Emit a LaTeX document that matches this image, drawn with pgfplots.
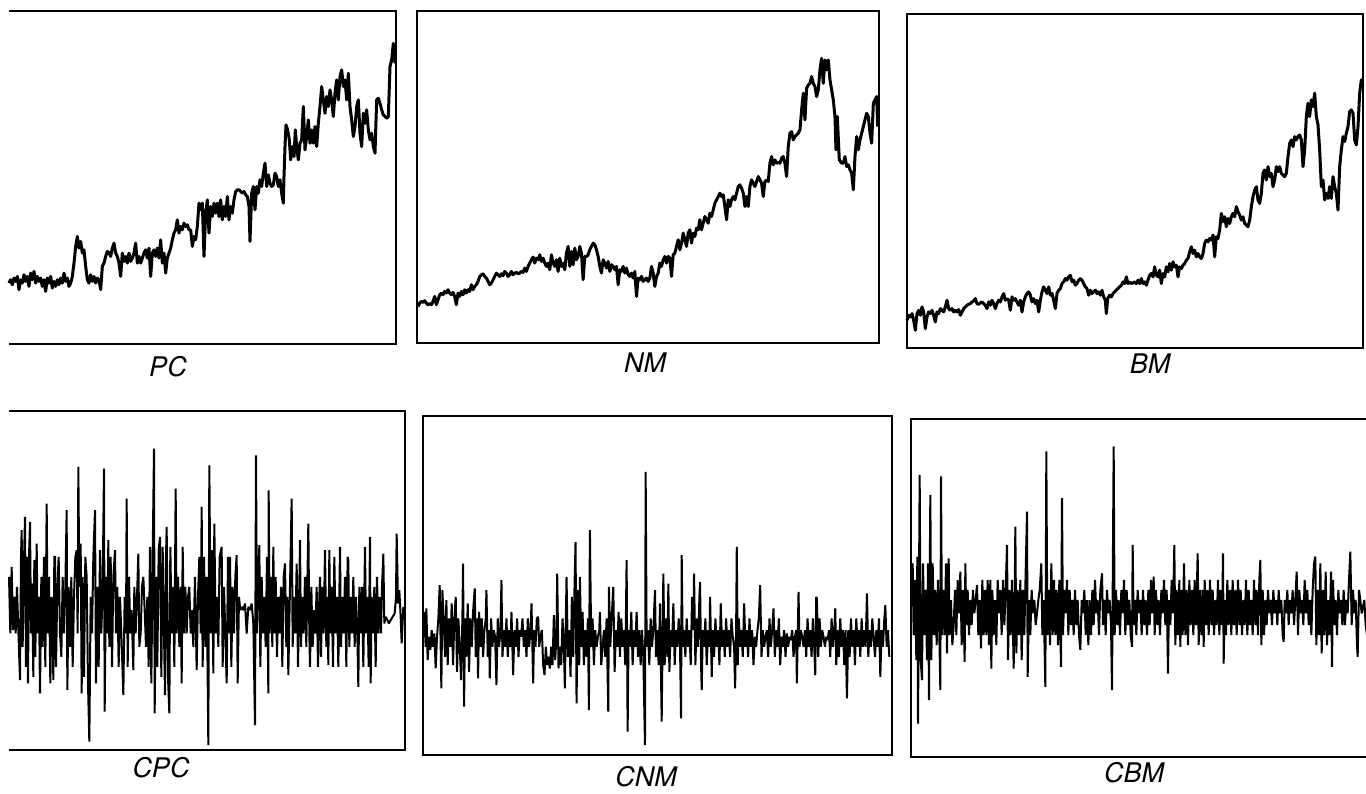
\documentclass[border=0pt]{standalone}
\usepackage{pgfplots}
\pgfplotsset{compat=1.18}
\usepackage{fontspec}
\setmainfont{TeX Gyre Heros}
\pgfplotsset{
  panel/.style={scale only axis, hide axis, y dir=reverse, clip=false},
  top/.style={black, line width=1.5pt, line join=round},
  bot/.style={black, line width=1.0pt, line join=miter, miter limit=2},
}
\begin{document}
\begin{tikzpicture}
\useasboundingbox (0pt,0pt) rectangle (683pt,-396.5pt);
% ---------- PC ----------
\begin{axis}[panel, name=pc, at={(4.5pt,-5.5pt)}, anchor=north west, width=193.5pt, height=166.5pt,
  xmin=27, xmax=1188, ymin=33, ymax=1033]
\addplot[top] coordinates {
(27,850)(32,840)(37,855)(42,835)(47,845)(52,830)(57,870)(62,840)(67,850)(72,825)(77,845)(82,830)(87,860)(92,820)(97,840)(102,815)(107,850)(112,830)(117,845)(122,835)(127,860)(132,840)(137,875)(142,835)(147,850)(152,830)(157,865)(162,845)(167,860)(172,840)(177,855)(182,835)(187,850)(192,820)(197,845)(202,835)(207,860)(212,850)(217,830)(222,790)(227,740)(232,710)(237,745)(242,725)(247,760)(252,750)(257,800)(262,840)(267,850)(272,825)(277,845)(282,830)(287,850)(292,835)(297,840)(302,870)(307,800)(312,790)(317,770)(322,755)(327,760)(332,770)(337,745)(342,730)(347,760)(352,770)(357,790)(362,830)(367,760)(372,785)(377,770)(382,790)(387,760)(392,785)(397,775)(402,760)(407,730)(412,790)(417,770)(422,790)(427,775)(432,760)(437,750)(442,775)(447,745)(452,830)(457,760)(462,750)(467,770)(472,745)(477,775)(482,720)(487,790)(492,760)(497,820)(502,775)(507,760)(512,745)(517,720)(522,700)(527,690)(532,660)(537,700)(542,680)(547,690)(552,670)(557,680)(562,675)(567,690)(572,690)(577,740)(582,710)(587,720)(592,680)(597,610)(602,630)(607,610)(612,770)(617,640)(622,600)(627,700)(632,620)(637,650)(642,610)(647,640)(652,610)(657,650)(662,600)(667,660)(672,620)(677,650)(682,590)(687,660)(692,620)(697,640)(702,600)(707,575)(712,570)(717,570)(722,575)(727,580)(732,575)(737,585)(742,590)(747,620)(750,725)(755,580)(760,560)(765,630)(770,560)(775,580)(780,540)(785,560)(790,520)(795,490)(800,560)(805,525)(810,550)(815,560)(820,555)(825,520)(830,530)(835,560)(840,540)(845,580)(850,610)(852,530)(855,440)(858,375)(863,390)(868,420)(872,480)(877,440)(882,470)(886,390)(890,440)(895,480)(900,430)(905,420)(910,320)(915,450)(920,410)(925,360)(930,430)(935,390)(940,430)(945,380)(950,440)(955,370)(960,320)(965,260)(970,300)(975,340)(980,290)(985,320)(990,270)(995,300)(1000,350)(1005,280)(1010,240)(1015,300)(1020,230)(1025,210)(1030,260)(1035,240)(1040,300)(1045,220)(1050,320)(1055,360)(1060,410)(1065,380)(1070,320)(1075,300)(1080,400)(1085,440)(1090,340)(1095,370)(1100,330)(1105,390)(1110,420)(1115,400)(1120,440)(1125,460)(1130,300)(1135,295)(1140,310)(1145,330)(1150,345)(1155,350)(1160,355)(1165,350)(1170,200)(1175,180)(1180,130)(1185,190)
};
\end{axis}
\draw[line width=1pt] (pc.north west) -- (pc.north east) -- (pc.south east) -- (pc.south west);
% ---------- NM ----------
\begin{axis}[panel, name=nm, at={(208.5pt,-5.5pt)}, anchor=north west, width=231pt, height=166pt,
  xmin=52, xmax=1437, ymin=33, ymax=1030]
\addplot[top] coordinates {
(55,920)(60,910)(65,905)(70,908)(75,903)(80,910)(85,915)(90,912)(95,915)(100,905)(105,890)(110,915)(115,900)(120,885)(125,880)(130,885)(135,875)(140,880)(145,870)(150,880)(155,885)(160,878)(165,890)(170,915)(175,880)(180,890)(185,875)(190,885)(195,870)(200,880)(205,870)(210,875)(215,855)(220,870)(225,860)(230,855)(235,845)(240,830)(245,825)(250,822)(255,830)(260,835)(265,845)(270,855)(275,850)(280,840)(285,830)(290,820)(295,825)(300,830)(305,822)(310,828)(315,815)(320,820)(325,830)(330,825)(335,815)(340,825)(345,820)(350,818)(355,822)(360,820)(365,815)(370,818)(375,805)(380,815)(385,800)(390,790)(395,780)(400,772)(405,790)(410,775)(415,780)(420,765)(425,785)(430,775)(435,790)(440,800)(445,790)(450,810)(455,765)(460,790)(465,800)(470,780)(475,815)(480,775)(485,800)(490,790)(495,810)(500,760)(505,740)(510,800)(515,755)(520,795)(525,745)(530,780)(535,770)(540,740)(545,760)(550,840)(555,770)(560,770)(565,765)(570,750)(575,740)(580,730)(585,735)(590,750)(595,770)(600,800)(605,820)(610,780)(615,790)(620,805)(625,785)(630,815)(635,795)(640,800)(645,810)(650,800)(655,855)(660,810)(665,815)(670,800)(675,820)(680,805)(685,825)(690,830)(695,820)(700,835)(705,815)(710,890)(715,835)(720,840)(725,830)(730,845)(735,840)(740,835)(745,845)(750,835)(755,800)(760,820)(765,860)(770,830)(775,820)(780,790)(785,800)(790,780)(795,770)(800,790)(805,770)(810,775)(815,830)(820,765)(825,760)(830,740)(835,720)(840,750)(845,730)(850,700)(855,720)(860,740)(865,700)(870,690)(875,730)(880,700)(885,710)(890,685)(895,690)(900,660)(905,690)(910,670)(915,650)(920,660)(925,670)(930,640)(935,650)(940,630)(945,610)(950,600)(955,590)(960,580)(965,590)(970,585)(975,620)(980,660)(985,600)(990,620)(995,600)(1000,590)(1005,600)(1010,580)(1015,560)(1020,555)(1025,565)(1030,580)(1035,620)(1040,590)(1045,620)(1050,560)(1055,540)(1060,550)(1065,560)(1070,545)(1075,530)(1080,540)(1085,550)(1090,590)(1095,545)(1100,540)(1105,545)(1110,490)(1115,470)(1120,495)(1125,480)(1130,490)(1135,488)(1140,490)(1145,475)(1150,470)(1155,490)(1160,530)(1165,440)(1170,400)(1175,395)(1180,420)(1185,410)(1190,405)(1195,400)(1200,390)(1205,330)(1210,280)(1215,360)(1220,265)(1225,255)(1230,250)(1235,230)(1240,250)(1245,260)(1250,290)(1255,270)(1260,210)(1265,175)(1270,250)(1275,180)(1280,210)(1285,180)(1290,240)(1295,270)(1300,300)(1305,350)(1308,450)(1312,350)(1318,480)(1325,490)(1330,490)(1335,470)(1340,500)(1345,495)(1350,510)(1355,520)(1360,570)(1365,470)(1370,410)(1375,450)(1380,420)(1385,400)(1390,380)(1395,360)(1400,340)(1405,350)(1410,400)(1415,430)(1420,310)(1425,300)(1430,290)(1433,380)
};
\end{axis}
\draw[line width=1pt] (nm.north west) rectangle (nm.south east);
% ---------- BM ----------
\begin{axis}[panel, name=bm, at={(453.5pt,-7pt)}, anchor=north west, width=228pt, height=167pt,
  xmin=82, xmax=1450, ymin=43, ymax=1043]
\addplot[top] coordinates {
(82,960)(87,945)(92,950)(97,940)(102,960)(107,990)(112,940)(117,930)(122,945)(127,920)(132,935)(137,985)(142,950)(147,935)(152,940)(157,930)(162,945)(167,965)(172,935)(177,940)(182,925)(187,930)(192,935)(197,920)(202,900)(207,925)(212,930)(217,925)(222,935)(227,930)(232,935)(237,928)(242,945)(247,935)(252,925)(257,920)(262,915)(267,912)(272,910)(277,905)(282,902)(287,895)(292,910)(297,912)(302,908)(307,905)(312,910)(317,915)(322,925)(327,905)(332,915)(337,900)(342,910)(347,925)(352,910)(357,900)(362,905)(367,890)(372,880)(377,900)(382,895)(387,900)(392,930)(397,890)(402,900)(407,895)(412,905)(417,915)(422,900)(427,935)(432,905)(437,890)(442,880)(447,875)(452,885)(457,905)(462,895)(467,910)(472,900)(477,935)(482,900)(487,875)(492,860)(497,870)(502,880)(507,860)(512,885)(517,880)(522,900)(527,925)(532,880)(537,870)(542,865)(547,850)(552,845)(557,835)(562,840)(567,830)(572,825)(577,845)(582,840)(587,855)(592,850)(597,840)(602,835)(607,840)(612,850)(617,860)(622,865)(627,885)(632,870)(637,880)(642,875)(647,870)(652,880)(657,875)(662,885)(667,870)(672,890)(677,900)(680,940)(684,895)(690,885)(695,890)(700,880)(705,875)(710,870)(715,865)(720,860)(725,855)(730,845)(735,850)(740,830)(745,850)(750,845)(755,850)(760,848)(765,845)(770,850)(775,840)(780,850)(785,835)(790,850)(795,845)(800,855)(805,840)(810,825)(815,820)(820,830)(825,800)(830,825)(835,830)(840,810)(845,850)(850,820)(855,830)(860,800)(865,815)(870,790)(875,810)(880,785)(885,800)(890,795)(895,830)(900,800)(905,805)(910,795)(915,790)(920,780)(925,775)(930,755)(935,740)(940,760)(945,750)(950,770)(955,760)(960,770)(965,775)(970,760)(975,730)(980,720)(985,725)(990,715)(995,720)(1000,705)(1005,770)(1010,710)(1015,715)(1020,690)(1025,640)(1030,665)(1035,650)(1040,680)(1045,655)(1050,670)(1055,650)(1060,640)(1065,650)(1070,620)(1075,635)(1080,645)(1085,660)(1090,650)(1095,670)(1100,675)(1105,680)(1110,660)(1115,620)(1120,590)(1125,570)(1130,560)(1135,600)(1140,610)(1145,580)(1150,520)(1155,510)(1160,540)(1165,500)(1170,530)(1175,520)(1180,560)(1185,540)(1190,500)(1195,515)(1200,500)(1205,520)(1210,525)(1215,530)(1220,520)(1225,470)(1230,430)(1235,420)(1240,440)(1245,410)(1250,420)(1255,410)(1260,405)(1265,420)(1270,500)(1275,450)(1280,350)(1285,310)(1290,350)(1295,300)(1300,320)(1305,280)(1310,350)(1315,375)(1320,450)(1325,560)(1330,540)(1335,600)(1340,580)(1345,595)(1350,560)(1355,595)(1360,530)(1365,560)(1370,580)(1375,630)(1380,500)(1385,450)(1390,410)(1395,425)(1400,400)(1405,380)(1410,335)(1415,330)(1420,340)(1425,420)(1430,435)(1435,380)(1440,280)(1445,240)(1450,260)
};
\end{axis}
\draw[line width=1pt] (bm.north west) rectangle (bm.south east);
% ---------- CPC ----------
\begin{axis}[panel, name=cpc, at={(4.5pt,-205.5pt)}, anchor=north west, width=198pt, height=169.5pt,
  xmin=27, xmax=1215, ymin=62, ymax=1080]
\addplot[bot] coordinates {
(27,560)(31,730)(35,530)(39,720)(43,620)(47,730)(51,590)(55,720)(60,870)(63,500)(65,420)(68,770)(71,560)(75,380)(78,830)(81,500)(84,880)(87,500)(90,395)(93,730)(96,580)(100,860)(103,510)(106,800)(110,460)(113,730)(117,620)(120,910)(124,560)(128,770)(132,500)(136,830)(140,340)(143,730)(147,560)(151,880)(155,620)(158,730)(160,870)(163,500)(165,500)(168,830)(172,590)(176,500)(180,730)(184,800)(188,560)(192,730)(196,590)(200,360)(202,900)(206,590)(210,770)(214,560)(218,830)(222,620)(226,500)(230,480)(233,730)(235,230)(238,590)(242,460)(245,910)(248,560)(252,860)(256,500)(260,560)(264,880)(268,1055)(272,620)(276,730)(280,500)(285,360)(288,880)(292,590)(296,830)(300,480)(304,730)(308,590)(312,235)(314,965)(318,560)(322,730)(325,450)(328,770)(332,500)(336,830)(340,560)(345,480)(348,730)(352,590)(356,830)(360,620)(364,730)(370,915)(374,620)(378,730)(380,325)(383,830)(387,560)(391,730)(395,660)(400,840)(403,590)(407,730)(411,620)(415,490)(418,770)(422,730)(426,590)(430,560)(434,660)(438,770)(442,620)(446,830)(450,470)(454,880)(458,500)(462,175)(464,970)(468,560)(472,830)(476,480)(480,440)(484,860)(488,470)(492,730)(495,915)(498,500)(500,410)(504,860)(508,970)(511,470)(515,730)(519,590)(523,830)(527,295)(530,730)(534,560)(538,770)(542,590)(545,880)(548,470)(552,730)(556,590)(560,730)(564,620)(568,590)(572,730)(576,660)(580,770)(585,560)(590,840)(594,620)(598,500)(602,730)(605,350)(608,830)(612,500)(616,770)(620,560)(625,1065)(628,225)(632,730)(636,480)(640,850)(643,400)(647,730)(651,620)(655,770)(659,500)(665,470)(668,830)(672,590)(676,730)(680,880)(684,500)(688,730)(690,500)(694,830)(698,590)(702,730)(706,560)(710,495)(713,880)(717,620)(721,660)(725,650)(730,660)(735,640)(740,730)(745,650)(750,660)(755,640)(760,700)(765,1005)(768,195)(771,730)(774,590)(778,465)(781,830)(785,560)(789,730)(793,620)(797,770)(801,500)(805,910)(806,300)(809,730)(813,560)(817,770)(820,470)(823,730)(827,560)(831,800)(835,620)(839,730)(843,590)(847,830)(851,560)(855,520)(859,770)(862,620)(865,855)(870,590)(875,325)(878,770)(882,620)(886,730)(890,520)(894,830)(898,590)(900,450)(903,770)(907,620)(911,730)(915,560)(919,770)(925,400)(928,730)(930,830)(934,590)(938,770)(942,660)(946,730)(950,590)(954,830)(958,620)(960,560)(963,800)(967,590)(971,730)(975,480)(979,770)(982,620)(985,825)(988,480)(991,730)(995,590)(999,830)(1003,500)(1007,730)(1011,620)(1015,830)(1020,470)(1023,770)(1027,620)(1031,730)(1035,560)(1039,830)(1043,500)(1045,510)(1048,770)(1052,620)(1056,730)(1060,560)(1064,770)(1068,620)(1072,730)(1075,890)(1078,590)(1082,730)(1086,590)(1090,830)(1095,470)(1098,730)(1102,620)(1106,830)(1110,440)(1112,880)(1115,620)(1119,730)(1123,590)(1127,830)(1131,560)(1135,730)(1139,620)(1143,730)(1146,590)(1150,490)(1153,700)(1157,680)(1162,690)(1167,700)(1172,690)(1178,680)(1184,670)(1188,620)(1190,430)(1194,640)(1198,600)(1202,680)(1205,760)(1210,650)
};
\end{axis}
\draw[line width=1pt] (cpc.north west) -- (cpc.north east) -- (cpc.south east) -- (cpc.south west);
% ---------- CNM ----------
\begin{axis}[panel, name=cnm, at={(211.5pt,-208pt)}, anchor=north west, width=234.5pt, height=169.5pt,
  xmin=70, xmax=1475, ymin=77, ymax=1095]
\addplot[bot] coordinates {
(70,740)(74,665)(78,770)(80,655)(84,810)(88,740)(92,780)(96,720)(100,770)(104,730)(108,835)(112,740)(116,685)(120,585)(123,770)(125,895)(128,600)(132,685)(136,800)(140,630)(144,825)(148,685)(152,770)(156,640)(160,825)(164,685)(168,620)(172,845)(176,685)(180,770)(184,870)(188,685)(190,520)(193,950)(196,685)(200,800)(204,640)(208,845)(212,685)(216,770)(220,665)(225,595)(228,800)(232,685)(235,865)(238,665)(242,770)(246,685)(250,800)(254,720)(258,685)(260,600)(264,800)(268,720)(270,865)(274,685)(278,770)(282,720)(286,740)(290,885)(294,685)(298,770)(302,720)(305,570)(308,800)(312,720)(316,770)(320,685)(324,800)(328,720)(332,770)(335,665)(340,855)(344,720)(348,770)(352,685)(356,800)(360,720)(364,740)(368,685)(372,770)(376,720)(380,800)(384,685)(388,770)(392,720)(395,640)(400,880)(403,720)(407,770)(411,685)(415,680)(418,770)(422,740)(426,720)(430,825)(434,855)(438,770)(442,825)(446,800)(450,835)(454,770)(458,825)(462,675)(466,810)(470,740)(472,550)(476,835)(480,770)(484,825)(488,685)(492,770)(495,895)(498,685)(500,560)(504,800)(508,720)(512,860)(516,620)(520,800)(524,585)(527,455)(530,940)(534,600)(538,825)(540,560)(544,770)(548,665)(552,825)(556,720)(560,800)(564,685)(567,960)(570,420)(574,770)(578,685)(582,825)(586,720)(590,770)(594,740)(598,720)(600,665)(604,825)(608,770)(612,720)(616,800)(620,685)(625,965)(627,590)(631,770)(635,685)(640,590)(644,845)(648,720)(652,770)(656,665)(660,800)(664,685)(668,770)(672,720)(676,825)(680,510)(683,1025)(686,720)(690,770)(694,665)(698,825)(702,720)(706,770)(710,665)(714,800)(718,720)(722,825)(726,720)(730,800)(735,1065)(737,245)(740,770)(744,720)(748,825)(752,685)(756,770)(760,720)(765,600)(768,800)(772,720)(776,825)(780,640)(785,995)(790,550)(794,825)(798,685)(802,800)(805,580)(808,845)(812,720)(816,770)(820,640)(824,825)(828,720)(832,770)(836,685)(840,770)(843,985)(845,495)(848,770)(852,720)(856,800)(860,685)(864,770)(868,720)(872,825)(876,620)(880,720)(882,550)(886,825)(890,685)(894,770)(898,620)(900,575)(903,825)(905,900)(908,720)(912,770)(916,685)(920,825)(924,720)(928,770)(930,620)(935,860)(938,720)(942,800)(946,685)(950,770)(954,720)(958,825)(962,640)(966,770)(970,720)(974,800)(978,685)(982,770)(986,720)(990,800)(994,685)(998,740)(1002,770)(1005,895)(1008,720)(1010,470)(1013,825)(1016,685)(1020,770)(1024,720)(1028,800)(1032,640)(1036,770)(1040,720)(1044,800)(1048,685)(1052,770)(1056,720)(1060,825)(1064,740)(1068,770)(1072,720)(1076,685)(1080,585)(1084,800)(1088,720)(1092,770)(1096,740)(1100,720)(1104,800)(1108,685)(1112,770)(1116,720)(1120,655)(1124,800)(1128,720)(1132,770)(1136,685)(1140,825)(1144,740)(1148,770)(1152,720)(1156,800)(1160,730)(1164,770)(1168,740)(1172,750)(1176,720)(1180,800)(1184,740)(1188,720)(1190,880)(1195,605)(1198,770)(1202,720)(1206,740)(1210,770)(1214,720)(1218,800)(1222,685)(1226,770)(1230,720)(1234,800)(1238,685)(1242,770)(1245,855)(1248,620)(1250,625)(1254,800)(1258,685)(1262,770)(1266,720)(1270,740)(1274,770)(1278,740)(1282,750)(1286,720)(1290,800)(1294,685)(1298,770)(1302,720)(1305,655)(1308,825)(1312,720)(1316,800)(1320,685)(1324,770)(1328,720)(1332,825)(1336,720)(1340,925)(1344,720)(1348,800)(1352,685)(1356,770)(1360,720)(1364,825)(1368,685)(1372,770)(1376,720)(1380,800)(1384,685)(1388,770)(1392,720)(1396,770)(1400,610)(1404,800)(1408,720)(1412,770)(1416,685)(1420,740)(1424,800)(1428,720)(1432,770)(1436,685)(1440,860)(1444,720)(1448,770)(1452,685)(1455,645)(1459,770)(1463,720)(1467,800)
};
\end{axis}
\draw[line width=1pt] (cnm.north west) rectangle (cnm.south east);
% ---------- CBM ----------
\begin{axis}[panel, name=cbm, at={(455.5pt,-209.5pt)}, anchor=north west, width=232pt, height=169pt,
  xmin=92, xmax=1484, ymin=88, ymax=1100]
\addplot[bot] coordinates {
(92,650)(95,545)(97,520)(100,735)(104,570)(108,810)(111,500)(113,1000)(116,570)(118,255)(121,810)(125,870)(128,520)(132,735)(136,600)(140,810)(143,520)(146,930)(148,570)(150,315)(153,810)(157,520)(161,735)(165,600)(169,765)(173,570)(177,735)(180,900)(182,260)(185,735)(189,600)(193,735)(197,520)(200,790)(203,570)(205,505)(208,735)(212,630)(216,765)(220,705)(224,600)(228,735)(232,570)(236,670)(240,545)(244,765)(248,600)(253,815)(255,520)(258,705)(262,600)(266,735)(270,630)(274,705)(278,600)(282,670)(286,630)(290,585)(294,735)(298,630)(302,775)(306,570)(310,735)(314,600)(318,735)(322,570)(326,765)(330,570)(333,835)(336,600)(340,735)(344,630)(348,765)(352,570)(356,670)(360,600)(364,735)(368,570)(372,705)(376,600)(380,465)(383,810)(387,600)(391,735)(395,570)(400,835)(403,630)(405,410)(408,790)(412,600)(416,735)(420,570)(424,810)(428,600)(432,735)(436,545)(440,365)(442,860)(446,630)(450,735)(454,600)(458,670)(462,630)(466,705)(470,670)(474,630)(478,600)(483,520)(486,735)(490,630)(495,890)(498,185)(501,735)(505,600)(509,765)(513,520)(517,735)(521,570)(525,735)(529,600)(533,765)(537,570)(542,830)(545,325)(548,735)(552,600)(556,670)(560,570)(564,735)(568,600)(572,705)(576,630)(580,735)(584,600)(588,705)(592,630)(596,735)(600,780)(604,630)(608,670)(612,600)(616,735)(620,630)(624,765)(628,630)(632,735)(636,600)(640,705)(644,570)(648,670)(652,630)(656,735)(660,600)(665,550)(668,705)(672,630)(676,735)(680,600)(684,670)(688,630)(692,705)(695,900)(700,170)(703,735)(707,600)(711,705)(715,630)(719,735)(723,600)(727,670)(731,570)(735,735)(739,600)(743,705)(747,630)(751,735)(755,770)(757,465)(760,705)(764,630)(768,735)(772,600)(776,670)(780,630)(784,735)(788,600)(792,705)(796,630)(800,735)(804,600)(808,705)(812,570)(816,670)(820,560)(823,735)(827,600)(831,705)(835,630)(839,735)(843,600)(847,670)(851,570)(855,705)(859,600)(863,850)(866,630)(870,705)(874,570)(878,670)(882,465)(885,765)(889,600)(893,735)(897,570)(900,770)(903,600)(907,735)(911,520)(915,735)(919,600)(923,765)(927,570)(931,705)(935,600)(939,735)(943,570)(947,705)(952,490)(955,765)(959,600)(963,735)(967,600)(970,770)(973,570)(977,705)(981,600)(985,735)(989,570)(993,705)(997,600)(1001,735)(1005,630)(1009,705)(1013,570)(1017,735)(1021,600)(1025,705)(1028,490)(1030,820)(1033,630)(1037,735)(1041,570)(1045,705)(1049,600)(1053,735)(1057,570)(1061,705)(1065,600)(1069,735)(1073,570)(1077,705)(1081,600)(1085,735)(1089,630)(1093,705)(1097,570)(1101,735)(1105,600)(1109,705)(1113,630)(1117,735)(1121,570)(1125,705)(1129,600)(1133,735)(1137,570)(1140,510)(1143,765)(1147,600)(1151,735)(1155,630)(1159,705)(1163,600)(1167,670)(1171,630)(1175,705)(1179,600)(1183,670)(1187,630)(1191,705)(1195,600)(1199,670)(1203,630)(1207,735)(1210,755)(1213,630)(1217,670)(1221,600)(1225,705)(1229,630)(1233,670)(1237,600)(1241,705)(1245,630)(1249,545)(1253,735)(1257,600)(1261,670)(1265,630)(1269,705)(1273,570)(1277,670)(1281,600)(1285,705)(1289,630)(1293,735)(1297,600)(1301,520)(1305,500)(1308,765)(1312,600)(1316,735)(1320,520)(1324,790)(1328,600)(1332,735)(1336,545)(1340,765)(1344,630)(1348,735)(1352,545)(1355,830)(1358,570)(1362,705)(1366,630)(1370,735)(1374,600)(1378,670)(1382,630)(1386,705)(1390,600)(1394,705)(1398,630)(1402,670)(1406,570)(1410,485)(1414,705)(1418,600)(1422,670)(1426,630)(1430,765)(1432,800)(1436,600)(1440,630)(1444,670)(1448,650)(1452,630)(1456,705)(1460,735)(1464,705)
};
\end{axis}
\draw[line width=1pt] (cbm.north west) rectangle (cbm.south east);
% ---------- labels ----------
\begin{scope}[every node/.style={font=\fontsize{13.5}{16}\selectfont\itshape, inner sep=0pt}]
\node at (84pt,-183.5pt) {PC};
\node at (322.5pt,-181.5pt) {NM};
\node at (575pt,-182pt) {BM};
\node at (80.5pt,-384pt) {CPC};
\node at (323pt,-388.5pt) {CNM};
\node at (567pt,-386.5pt) {CBM};
\end{scope}
\end{tikzpicture}
\end{document}
